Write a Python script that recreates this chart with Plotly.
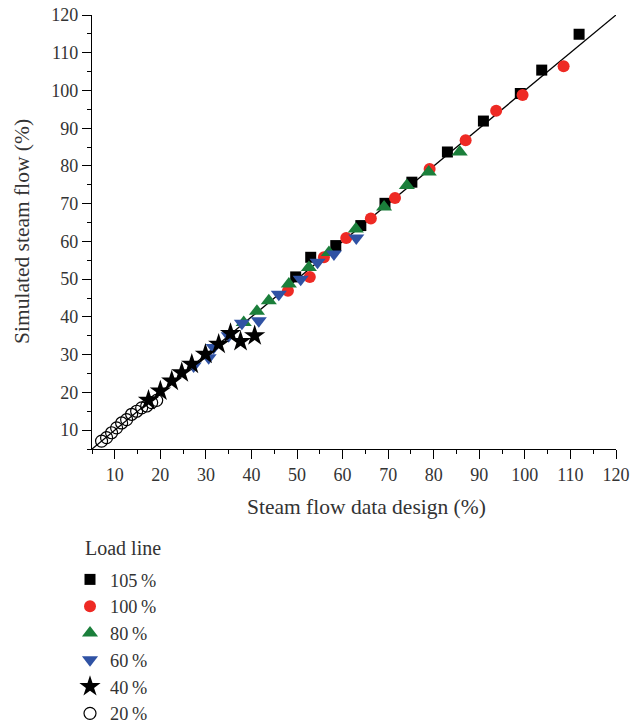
import plotly.graph_objects as go

# ---- data ----
x105 = [49.7, 53.0, 58.5, 64.0, 69.3, 75.2, 83.0, 90.9, 99.0, 103.7, 111.9]
y105 = [50.6, 55.8, 58.9, 64.2, 70.1, 75.7, 83.7, 91.9, 99.2, 105.4, 114.9]

x100 = [48.0, 52.8, 55.9, 60.8, 66.2, 71.5, 79.1, 87.0, 93.7, 99.5, 108.5]
y100 = [46.9, 50.6, 55.8, 60.9, 66.1, 71.5, 79.2, 86.8, 94.6, 98.8, 106.4]

x80 = [38.3, 41.2, 43.8, 48.2, 52.6, 57.0, 62.9, 69.1, 74.1, 78.9, 85.7]
y80 = [38.5, 41.5, 44.3, 48.7, 53.1, 57.1, 63.3, 69.1, 74.8, 78.4, 83.7]

x60 = [27.3, 30.6, 31.7, 35.0, 37.9, 41.6, 46.0, 50.8, 54.5, 58.1, 63.0]
y60 = [27.0, 29.2, 31.9, 35.0, 38.3, 39.0, 46.0, 50.0, 54.5, 56.7, 60.9]

x40 = [17.4, 20.0, 22.5, 24.7, 26.9, 29.9, 32.8, 35.4, 37.6, 40.7]
y40 = [17.9, 20.4, 23.0, 25.2, 27.5, 30.1, 32.8, 35.6, 33.5, 35.0]

x20 = [7.1, 8.2, 9.3, 10.4, 11.5, 12.6, 13.7, 14.8, 15.9, 17.0, 18.1, 19.2]
y20 = [7.1, 8.0, 9.3, 10.6, 11.9, 12.8, 14.2, 15.0, 15.9, 16.4, 17.3, 17.9]

line_x = [5, 120]
line_y = [5, 120]

x_ticks = [10, 20, 30, 40, 50, 60, 70, 80, 90, 100, 110, 120]
y_ticks = [10, 20, 30, 40, 50, 60, 70, 80, 90, 100, 110, 120]
series_names = ["105\u2009%", "100\u2009%", "80\u2009%", "60\u2009%", "40\u2009%", "20\u2009%"]

FONT = "Liberation Serif"
TXT = "#333333"
W, H = 643, 723
ML, MR, MT, MB = 92, 27, 15, 274
PW, PH = W - ML - MR, H - MT - MB

fig = go.Figure()

fig.add_trace(go.Scatter(x=line_x, y=line_y, mode="lines",
                         line=dict(color="black", width=1.3),
                         showlegend=False, hoverinfo="skip"))

specs = [
    (x105, y105, dict(symbol="square", size=11, color="black")),
    (x100, y100, dict(symbol="circle", size=12, color="#EE2A24")),
    (x80, y80, dict(symbol="triangle-up", size=14, color="#1B7F3B")),
    (x60, y60, dict(symbol="triangle-down", size=14, color="#2F52A4")),
    (x40, y40, dict(symbol="star", size=16, color="black")),
    (x20, y20, dict(symbol="circle-open", size=12, color="black", line=dict(width=1.2))),
]
for i, ((xs, ys, mk), name) in enumerate(zip(specs, series_names)):
    fig.add_trace(go.Scatter(x=xs, y=ys, mode="markers", name=name,
                             marker=mk, legendgroup=f"g{i}"))

axis_common = dict(
    showline=True, linecolor="black", linewidth=1.2,
    ticks="outside", ticklen=9, tickwidth=1.2, tickcolor="black",
    showgrid=False, zeroline=False, mirror=False, automargin=False,
    tickfont=dict(family=FONT, size=18, color=TXT),
    minor=dict(ticks="outside", ticklen=4, tickwidth=1, tickcolor="black", dtick=5),
)

fig.update_xaxes(range=[5, 120], tickvals=x_ticks, ticktext=[str(v) for v in x_ticks], **axis_common)
fig.update_yaxes(range=[5, 120], tickvals=y_ticks, ticktext=[str(v) for v in y_ticks], **axis_common)

def px_x(px):
    return (px - ML) / PW

def px_y(py):
    return (H - MB - py) / PH

fig.update_layout(
    width=W, height=H,
    margin=dict(l=ML, r=MR, t=MT, b=MB, autoexpand=False),
    plot_bgcolor="white", paper_bgcolor="white",
    font=dict(family=FONT, size=18, color=TXT),
    legend=dict(
        x=px_x(70), xanchor="left", y=px_y(561), yanchor="top",
        orientation="v", tracegroupgap=0,
        font=dict(family=FONT, size=18.3, color=TXT),
        itemwidth=30,
    ),
    annotations=[
        dict(text="Load line", xref="paper", yref="paper",
             x=px_x(83), xanchor="left", y=px_y(548), yanchor="middle",
             showarrow=False, font=dict(family=FONT, size=20, color=TXT)),
        dict(text="Steam flow data design (%)", xref="paper", yref="paper",
             x=px_x(366), xanchor="center", y=px_y(507), yanchor="middle",
             showarrow=False, font=dict(family=FONT, size=21.5, color=TXT)),
        dict(text="Simulated steam flow (%)", xref="paper", yref="paper",
             x=px_x(22), xanchor="center", y=px_y(232), yanchor="middle",
             textangle=-90, showarrow=False, font=dict(family=FONT, size=21.5, color=TXT)),
    ],
)

fig.write_html("out.html")
